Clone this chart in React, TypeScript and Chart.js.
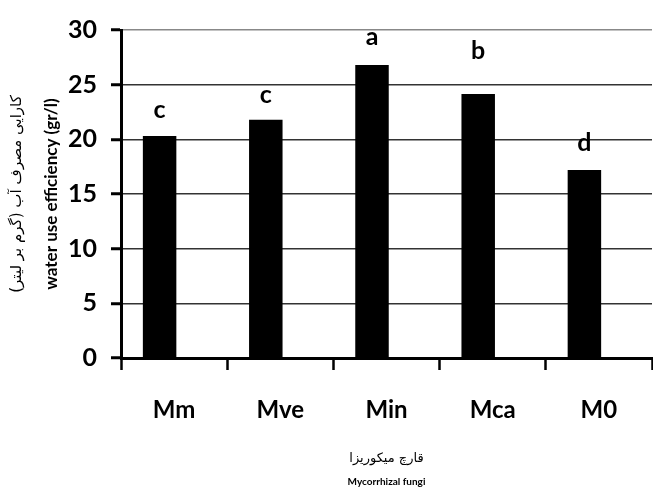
import React, { useEffect, useRef } from "react";
import { Chart, registerables } from "chart.js";

Chart.register(...registerables);

const categories = ["Mm", "Mve", "Min", "Mca", "M0"];
const wueValues = [20.3, 21.8, 26.8, 24.15, 17.2];
const spacerValues = [null, null, null, null, null];
const letters = ["c", "c", "a", "b", "d"];
const yTicks = [0, 5, 10, 15, 20, 25, 30];
const yTitleFa = "کارایی مصرف آب (گرم بر لیتر)";
const yTitleEn = "water use efficiency (gr/l)";
const xTitleFa = "قارچ میکوریزا";
const xTitleEn = "Mycorrhizal fungi";

const letterPlugin = {
  id: "letterPlugin",
  afterDatasetsDraw(chart: any, _args: any, opts: any) {
    const meta = chart.getDatasetMeta(0);
    const ctx = chart.ctx;
    ctx.save();
    ctx.font = "bold 25px Lato, 'DejaVu Sans', sans-serif";
    ctx.fillStyle = "#000";
    ctx.textAlign = "center";
    ctx.textBaseline = "middle";
    meta.data.forEach((bar: any, i: number) => {
      const lift = (opts.lift && opts.lift[i]) || 27;
      ctx.fillText(letters[i], bar.x, bar.y - lift);
    });
    ctx.restore();
  },
};

const axisTitlePlugin = {
  id: "axisTitlePlugin",
  afterDraw(chart: any) {
    const ctx = chart.ctx;
    const ca = chart.chartArea;
    const cy = (ca.top + ca.bottom) / 2;
    const cx = (ca.left + ca.right) / 2;
    ctx.save();
    ctx.fillStyle = "#000";
    ctx.textAlign = "center";
    ctx.textBaseline = "middle";
    ctx.save();
    ctx.translate(17, cy);
    ctx.rotate(-Math.PI / 2);
    ctx.direction = "rtl";
    ctx.font = "15px 'DejaVu Sans', sans-serif";
    ctx.fillText(yTitleFa, 0, 0);
    ctx.restore();
    ctx.save();
    ctx.translate(52, cy);
    ctx.rotate(-Math.PI / 2);
    ctx.font = "bold 17px Lato, sans-serif";
    ctx.fillText(yTitleEn, 0, 0);
    ctx.restore();
    ctx.save();
    ctx.direction = "rtl";
    ctx.font = "13px 'DejaVu Sans', sans-serif";
    ctx.fillText(xTitleFa, cx, 459);
    ctx.restore();
    ctx.font = "bold 10px Lato, sans-serif";
    ctx.fillText(xTitleEn, cx, 482);
    ctx.restore();
  },
};

export default function App() {
  const ref = useRef<HTMLCanvasElement>(null);
  useEffect(() => {
    if (!ref.current) return;
    const chart = new Chart(ref.current, {
      type: "bar",
      data: {
        labels: categories,
        datasets: [
          {
            data: wueValues,
            backgroundColor: "#000",
            borderWidth: 0,
            barPercentage: 1.155,
            categoryPercentage: 0.546,
          },
          {
            data: spacerValues as any,
            backgroundColor: "rgba(0,0,0,0)",
            borderWidth: 0,
            barPercentage: 1.155,
            categoryPercentage: 0.546,
          },
        ],
      },
      plugins: [letterPlugin, axisTitlePlugin],
      options: {
        animation: false,
        responsive: true,
        maintainAspectRatio: false,
        layout: { padding: { top: 30, right: 1, left: 0, bottom: 0 } },
        plugins: {
          legend: { display: false },
          tooltip: { enabled: false },
          letterPlugin: { lift: [26, 25, 28, 43, 27] },
        } as any,
        scales: {
          x: {
            afterFit: (s: any) => {
              s.height = 133;
            },
            border: { display: true, color: "#000", width: 3 },
            grid: {
              offset: true,
              drawOnChartArea: false,
              drawTicks: true,
              tickLength: 12,
              tickColor: "#000",
              tickWidth: 2.5,
            },
            ticks: {
              color: "#000",
              padding: 26,
              font: { family: "Lato, sans-serif", size: 24, weight: "bold" },
            },
          },
          y: {
            min: 0,
            max: 30,
            afterFit: (s: any) => {
              s.width = 121;
            },
            afterBuildTicks: (s: any) => {
              s.ticks = yTicks.map((v) => ({ value: v }));
            },
            border: { display: true, color: "#000", width: 3 },
            grid: {
              color: (c: any) => (c.tick && c.tick.value === 30 ? "#888" : "#333"),
              lineWidth: 1.5,
              drawTicks: true,
              tickLength: 10,
              tickColor: "#000",
              tickWidth: 3,
            },
            ticks: {
              color: "#000",
              padding: 14,
              font: { family: "Lato, sans-serif", size: 25, weight: "bold" },
            },
          },
        },
      },
    });
    return () => chart.destroy();
  }, []);
  return (
    <div style={{ position: "fixed", left: 0, top: 0, width: 653, height: 491, background: "#fff" }}>
      <canvas ref={ref} />
    </div>
  );
}
